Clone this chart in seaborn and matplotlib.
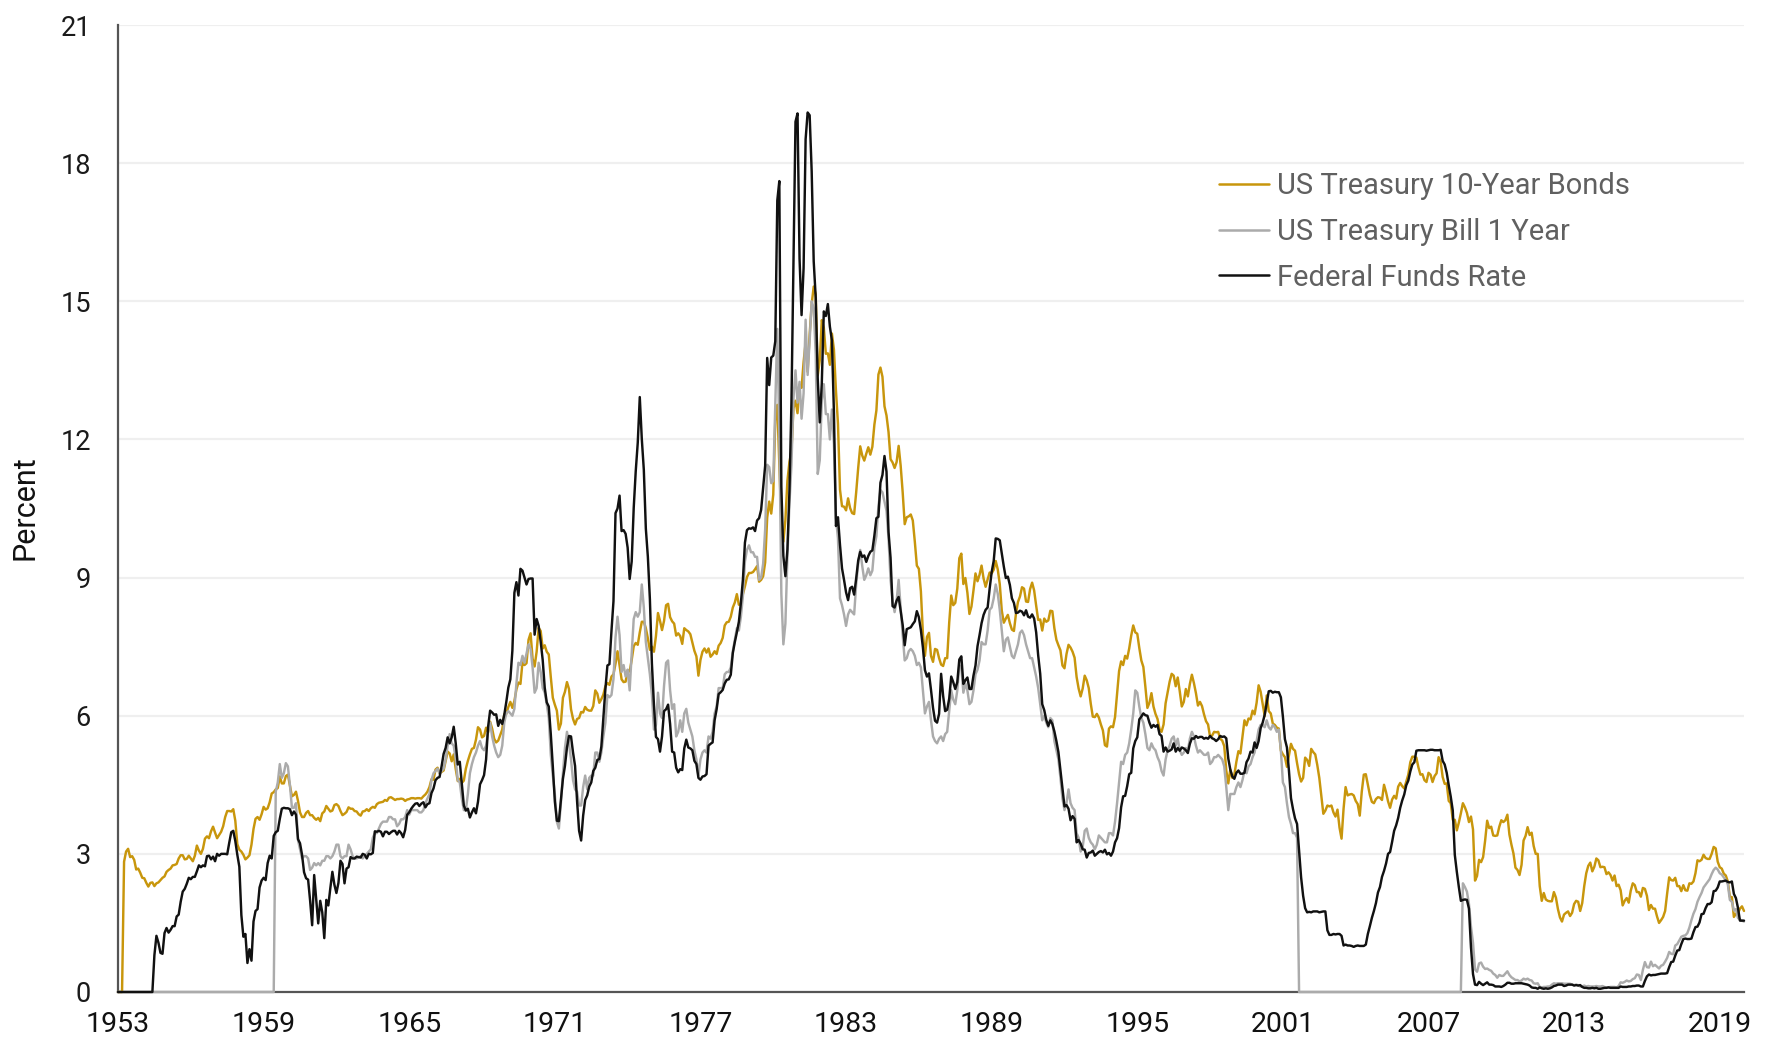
import numpy as np
import pandas as pd
import matplotlib
matplotlib.use("Agg")
import matplotlib.pyplot as plt
import seaborn as sns

# ---------------- data (monthly, Jan 1953 .. Jan 2020; 0 = no data) ----------------
start_year = 1953

treasury_10y = [
    0, 0, 0, 2.83, 3.05, 3.11, 2.93, 2.95, 2.87, 2.66, 2.68, 2.59,  # 1953
    2.48, 2.47, 2.37, 2.29, 2.37, 2.38, 2.30, 2.36, 2.38, 2.43, 2.48, 2.51,  # 1954
    2.61, 2.65, 2.68, 2.75, 2.76, 2.78, 2.90, 2.97, 2.97, 2.88, 2.89, 2.96,  # 1955
    2.90, 2.84, 2.96, 3.18, 3.07, 3.00, 3.11, 3.33, 3.38, 3.34, 3.49, 3.59,  # 1956
    3.46, 3.34, 3.41, 3.48, 3.60, 3.80, 3.93, 3.93, 3.92, 3.97, 3.72, 3.21,  # 1957
    3.09, 3.05, 2.98, 2.88, 2.92, 2.97, 3.20, 3.54, 3.76, 3.80, 3.74, 3.86,  # 1958
    4.02, 3.96, 3.99, 4.12, 4.31, 4.34, 4.40, 4.43, 4.68, 4.53, 4.53, 4.69,  # 1959
    4.72, 4.49, 4.25, 4.28, 4.35, 4.15, 3.90, 3.80, 3.80, 3.89, 3.93, 3.84,  # 1960
    3.84, 3.78, 3.74, 3.78, 3.71, 3.88, 3.92, 4.04, 3.98, 3.92, 3.94, 4.06,  # 1961
    4.08, 4.04, 3.93, 3.84, 3.87, 3.91, 4.01, 3.98, 3.98, 3.93, 3.92, 3.86,  # 1962
    3.83, 3.92, 3.93, 3.97, 3.93, 3.99, 4.02, 4.00, 4.08, 4.11, 4.12, 4.13,  # 1963
    4.17, 4.15, 4.22, 4.23, 4.20, 4.17, 4.19, 4.19, 4.20, 4.19, 4.15, 4.18,  # 1964
    4.19, 4.21, 4.21, 4.20, 4.21, 4.21, 4.20, 4.25, 4.29, 4.35, 4.45, 4.62,  # 1965
    4.61, 4.83, 4.87, 4.75, 4.78, 4.81, 5.02, 5.22, 5.18, 5.01, 5.16, 4.84,  # 1966
    4.58, 4.63, 4.54, 4.59, 4.85, 5.02, 5.16, 5.28, 5.30, 5.48, 5.75, 5.70,  # 1967
    5.53, 5.56, 5.74, 5.64, 5.87, 5.72, 5.50, 5.42, 5.46, 5.58, 5.70, 6.03,  # 1968
    6.04, 6.19, 6.30, 6.17, 6.32, 6.57, 6.72, 6.69, 7.16, 7.10, 7.14, 7.65,  # 1969
    7.79, 7.24, 7.07, 7.39, 7.91, 7.84, 7.46, 7.53, 7.39, 7.33, 6.84, 6.39,  # 1970
    6.24, 6.11, 5.70, 5.83, 6.39, 6.52, 6.73, 6.58, 6.14, 5.93, 5.81, 5.93,  # 1971
    5.95, 6.08, 6.07, 6.19, 6.13, 6.11, 6.11, 6.21, 6.55, 6.48, 6.28, 6.36,  # 1972
    6.46, 6.64, 6.71, 6.67, 6.85, 6.90, 7.13, 7.40, 7.09, 6.79, 6.73, 6.74,  # 1973
    6.99, 6.96, 7.21, 7.51, 7.58, 7.54, 7.81, 8.04, 8.04, 7.90, 7.68, 7.43,  # 1974
    7.50, 7.39, 7.73, 8.23, 8.06, 7.86, 8.06, 8.40, 8.43, 8.14, 8.05, 8.00,  # 1975
    7.74, 7.79, 7.73, 7.56, 7.90, 7.86, 7.83, 7.77, 7.59, 7.41, 7.29, 6.87,  # 1976
    7.21, 7.39, 7.46, 7.37, 7.46, 7.28, 7.33, 7.40, 7.34, 7.52, 7.58, 7.69,  # 1977
    7.96, 8.03, 8.04, 8.15, 8.35, 8.46, 8.64, 8.41, 8.42, 8.64, 8.81, 9.01,  # 1978
    9.10, 9.10, 9.12, 9.18, 9.25, 8.91, 8.95, 9.03, 9.33, 10.30, 10.65, 10.39,  # 1979
    10.80, 12.41, 12.75, 11.47, 10.18, 9.78, 10.25, 11.10, 11.51, 11.75, 12.68, 12.84,  # 1980
    12.57, 13.19, 13.12, 13.68, 14.10, 13.47, 14.28, 14.94, 15.32, 15.15, 13.39, 13.72,  # 1981
    14.59, 14.43, 13.86, 13.87, 13.62, 14.30, 13.95, 13.06, 12.34, 10.91, 10.55, 10.54,  # 1982
    10.46, 10.72, 10.51, 10.40, 10.38, 10.85, 11.38, 11.85, 11.65, 11.54, 11.69, 11.83,  # 1983
    11.67, 11.84, 12.32, 12.63, 13.41, 13.56, 13.36, 12.72, 12.52, 12.16, 11.57, 11.50,  # 1984
    11.38, 11.51, 11.86, 11.43, 10.85, 10.16, 10.31, 10.33, 10.37, 10.24, 9.78, 9.26,  # 1985
    9.19, 8.70, 7.78, 7.30, 7.71, 7.80, 7.30, 7.17, 7.45, 7.43, 7.25, 7.11,  # 1986
    7.08, 7.25, 7.25, 8.02, 8.61, 8.40, 8.45, 8.76, 9.42, 9.52, 8.86, 8.99,  # 1987
    8.67, 8.21, 8.37, 8.72, 9.09, 8.92, 9.06, 9.26, 8.98, 8.80, 8.96, 9.11,  # 1988
    9.09, 9.17, 9.36, 9.18, 8.86, 8.28, 8.02, 8.11, 8.19, 8.01, 7.87, 7.84,  # 1989
    8.21, 8.47, 8.59, 8.79, 8.76, 8.48, 8.47, 8.75, 8.89, 8.72, 8.39, 8.08,  # 1990
    8.09, 7.85, 8.11, 8.04, 8.07, 8.28, 8.27, 7.90, 7.65, 7.53, 7.42, 7.09,  # 1991
    7.03, 7.34, 7.54, 7.48, 7.39, 7.26, 6.84, 6.59, 6.42, 6.59, 6.87, 6.77,  # 1992
    6.60, 6.26, 5.98, 5.97, 6.04, 5.96, 5.81, 5.68, 5.36, 5.33, 5.72, 5.77,  # 1993
    5.75, 5.97, 6.48, 6.97, 7.18, 7.10, 7.30, 7.24, 7.46, 7.74, 7.96, 7.81,  # 1994
    7.78, 7.47, 7.20, 7.06, 6.63, 6.17, 6.28, 6.49, 6.20, 6.04, 5.93, 5.71,  # 1995
    5.65, 5.81, 6.27, 6.51, 6.74, 6.91, 6.87, 6.64, 6.83, 6.53, 6.20, 6.30,  # 1996
    6.58, 6.42, 6.69, 6.89, 6.71, 6.49, 6.22, 6.30, 6.21, 6.03, 5.88, 5.81,  # 1997
    5.54, 5.57, 5.65, 5.64, 5.65, 5.50, 5.46, 5.34, 4.81, 4.53, 4.83, 4.65,  # 1998
    4.72, 5.00, 5.23, 5.18, 5.54, 5.90, 5.79, 5.94, 5.92, 6.11, 6.03, 6.28,  # 1999
    6.66, 6.52, 6.26, 5.99, 6.44, 6.10, 6.05, 5.83, 5.80, 5.74, 5.72, 5.24,  # 2000
    5.16, 5.10, 4.89, 5.14, 5.39, 5.28, 5.24, 4.97, 4.73, 4.57, 4.65, 5.09,  # 2001
    5.04, 4.91, 5.28, 5.21, 5.16, 4.93, 4.65, 4.26, 3.87, 3.94, 4.05, 4.03,  # 2002
    4.05, 3.90, 3.81, 3.96, 3.57, 3.33, 3.98, 4.45, 4.27, 4.29, 4.30, 4.27,  # 2003
    4.15, 4.08, 3.83, 4.35, 4.72, 4.73, 4.50, 4.28, 4.13, 4.10, 4.19, 4.23,  # 2004
    4.22, 4.17, 4.50, 4.34, 4.14, 4.00, 4.18, 4.26, 4.20, 4.46, 4.54, 4.47,  # 2005
    4.42, 4.57, 4.72, 4.99, 5.11, 5.11, 5.09, 4.88, 4.72, 4.73, 4.60, 4.56,  # 2006
    4.76, 4.72, 4.56, 4.69, 4.75, 5.10, 5.00, 4.67, 4.52, 4.53, 4.15, 4.10,  # 2007
    3.74, 3.74, 3.51, 3.68, 3.88, 4.10, 4.01, 3.89, 3.69, 3.81, 3.53, 2.42,  # 2008
    2.52, 2.87, 2.82, 2.93, 3.29, 3.72, 3.56, 3.59, 3.40, 3.39, 3.40, 3.59,  # 2009
    3.73, 3.69, 3.73, 3.85, 3.42, 3.20, 3.01, 2.70, 2.65, 2.54, 2.76, 3.29,  # 2010
    3.39, 3.58, 3.41, 3.46, 3.17, 3.00, 3.00, 2.30, 1.98, 2.15, 2.01, 1.98,  # 2011
    1.97, 1.97, 2.17, 2.05, 1.80, 1.62, 1.53, 1.68, 1.72, 1.75, 1.65, 1.72,  # 2012
    1.91, 1.98, 1.96, 1.76, 1.93, 2.30, 2.58, 2.74, 2.81, 2.62, 2.72, 2.90,  # 2013
    2.86, 2.71, 2.72, 2.71, 2.56, 2.60, 2.54, 2.42, 2.53, 2.30, 2.33, 2.21,  # 2014
    1.88, 1.98, 2.04, 1.94, 2.20, 2.36, 2.32, 2.17, 2.17, 2.07, 2.26, 2.24,  # 2015
    2.09, 1.78, 1.89, 1.81, 1.81, 1.64, 1.50, 1.56, 1.63, 1.76, 2.14, 2.49,  # 2016
    2.43, 2.42, 2.48, 2.30, 2.30, 2.19, 2.32, 2.21, 2.20, 2.36, 2.35, 2.40,  # 2017
    2.58, 2.86, 2.84, 2.87, 2.98, 2.91, 2.89, 2.89, 3.00, 3.15, 3.12, 2.83,  # 2018
    2.71, 2.68, 2.57, 2.53, 2.40, 2.07, 2.06, 1.63, 1.70, 1.71, 1.81, 1.86,  # 2019
    1.76,  # 2020
]

tbill_1y = [
    0, 0, 0, 0, 0, 0, 0, 0, 0, 0, 0, 0,  # 1953
    0, 0, 0, 0, 0, 0, 0, 0, 0, 0, 0, 0,  # 1954
    0, 0, 0, 0, 0, 0, 0, 0, 0, 0, 0, 0,  # 1955
    0, 0, 0, 0, 0, 0, 0, 0, 0, 0, 0, 0,  # 1956
    0, 0, 0, 0, 0, 0, 0, 0, 0, 0, 0, 0,  # 1957
    0, 0, 0, 0, 0, 0, 0, 0, 0, 0, 0, 0,  # 1958
    0, 0, 0, 0, 0, 0, 4.35, 4.55, 4.95, 4.65, 4.75, 4.97,  # 1959
    4.90, 4.50, 4.00, 4.00, 4.10, 3.30, 3.10, 2.90, 2.95, 2.95, 2.90, 2.65,  # 1960
    2.70, 2.80, 2.75, 2.80, 2.75, 2.85, 2.85, 2.95, 2.95, 2.90, 2.95, 3.05,  # 1961
    3.20, 3.20, 2.95, 2.90, 2.95, 2.95, 3.20, 3.10, 2.95, 2.90, 2.90, 2.92,  # 1962
    2.95, 2.90, 2.95, 3.00, 3.05, 3.10, 3.35, 3.45, 3.45, 3.55, 3.65, 3.70,  # 1963
    3.70, 3.70, 3.80, 3.80, 3.75, 3.75, 3.60, 3.65, 3.75, 3.75, 3.80, 3.95,  # 1964
    3.85, 3.95, 3.95, 3.95, 3.95, 3.90, 3.90, 3.95, 4.10, 4.20, 4.30, 4.60,  # 1965
    4.75, 4.80, 4.85, 4.75, 4.80, 4.85, 5.05, 5.35, 5.60, 5.40, 5.35, 5.05,  # 1966
    4.60, 4.55, 4.20, 3.95, 3.95, 4.30, 4.75, 4.95, 5.10, 5.20, 5.35, 5.45,  # 1967
    5.30, 5.25, 5.35, 5.65, 5.85, 5.55, 5.35, 5.20, 5.10, 5.15, 5.35, 5.85,  # 1968
    6.05, 6.10, 6.05, 6.00, 6.15, 6.70, 7.15, 7.10, 7.30, 7.15, 7.35, 7.55,  # 1969
    7.45, 7.05, 6.50, 6.60, 7.15, 6.95, 6.60, 6.50, 6.25, 5.95, 5.15, 4.70,  # 1970
    4.30, 3.70, 3.55, 4.10, 4.75, 5.30, 5.65, 5.40, 5.05, 4.60, 4.40, 4.35,  # 1971
    4.05, 4.05, 4.45, 4.70, 4.40, 4.65, 4.70, 4.70, 5.20, 5.20, 5.00, 5.20,  # 1972
    5.55, 5.85, 6.45, 6.40, 6.45, 6.80, 7.70, 8.15, 7.75, 6.95, 7.10, 6.85,  # 1973
    7.00, 6.55, 7.35, 8.10, 8.25, 8.15, 8.25, 8.85, 8.35, 7.60, 7.25, 6.90,  # 1974
    6.45, 5.70, 5.80, 6.50, 6.05, 5.95, 6.65, 7.15, 7.20, 6.55, 6.15, 6.25,  # 1975
    5.55, 5.65, 5.90, 5.65, 6.05, 6.15, 5.85, 5.70, 5.55, 5.25, 5.05, 4.70,  # 1976
    5.05, 5.20, 5.25, 5.20, 5.55, 5.50, 5.65, 6.05, 6.20, 6.60, 6.60, 6.60,  # 1977
    6.90, 6.95, 6.95, 7.05, 7.40, 7.65, 7.90, 7.85, 8.15, 8.60, 9.35, 9.60,  # 1978
    9.70, 9.55, 9.55, 9.45, 9.45, 8.95, 9.00, 9.30, 10.05, 11.45, 11.40, 11.05,  # 1979
    11.10, 12.75, 14.40, 12.15, 8.65, 7.55, 8.00, 9.45, 10.60, 11.45, 12.90, 13.50,  # 1980
    12.80, 13.25, 12.45, 13.00, 14.60, 13.40, 14.15, 15.00, 14.85, 13.85, 11.25, 11.55,  # 1981
    12.85, 13.20, 12.55, 12.55, 12.00, 12.65, 11.90, 10.30, 9.85, 8.55, 8.40, 8.20,  # 1982
    7.95, 8.20, 8.30, 8.25, 8.20, 8.85, 9.30, 9.60, 9.25, 8.95, 9.05, 9.20,  # 1983
    9.05, 9.15, 9.65, 9.90, 10.55, 10.90, 10.85, 10.65, 10.45, 9.85, 8.95, 8.50,  # 1984
    8.25, 8.50, 8.95, 8.35, 7.75, 7.20, 7.25, 7.40, 7.45, 7.40, 7.30, 7.10,  # 1985
    7.15, 7.05, 6.55, 6.05, 6.20, 6.30, 5.90, 5.55, 5.45, 5.40, 5.50, 5.55,  # 1986
    5.45, 5.60, 5.65, 6.10, 6.55, 6.35, 6.25, 6.55, 7.10, 7.05, 6.50, 6.70,  # 1987
    6.55, 6.25, 6.30, 6.55, 6.90, 7.00, 7.20, 7.60, 7.55, 7.55, 7.85, 8.30,  # 1988
    8.35, 8.55, 8.85, 8.65, 8.30, 7.85, 7.40, 7.65, 7.70, 7.50, 7.30, 7.25,  # 1989
    7.40, 7.55, 7.80, 7.85, 7.75, 7.55, 7.40, 7.25, 7.25, 7.05, 6.85, 6.60,  # 1990
    6.25, 5.90, 6.00, 5.85, 5.75, 5.95, 5.90, 5.45, 5.25, 5.05, 4.65, 4.20,  # 1991
    3.95, 4.10, 4.40, 4.10, 4.00, 3.95, 3.45, 3.35, 3.05, 3.15, 3.50, 3.55,  # 1992
    3.35, 3.25, 3.20, 3.10, 3.20, 3.40, 3.35, 3.30, 3.25, 3.25, 3.45, 3.45,  # 1993
    3.40, 3.70, 4.10, 4.55, 5.00, 4.95, 5.15, 5.20, 5.40, 5.70, 6.05, 6.55,  # 1994
    6.50, 6.20, 5.95, 5.85, 5.60, 5.30, 5.25, 5.40, 5.30, 5.25, 5.10, 5.00,  # 1995
    4.80, 4.70, 5.05, 5.25, 5.35, 5.50, 5.55, 5.35, 5.50, 5.25, 5.15, 5.20,  # 1996
    5.30, 5.25, 5.50, 5.65, 5.55, 5.35, 5.20, 5.25, 5.20, 5.15, 5.15, 5.20,  # 1997
    4.95, 5.00, 5.10, 5.10, 5.15, 5.10, 5.05, 4.90, 4.45, 3.95, 4.30, 4.30,  # 1998
    4.30, 4.45, 4.55, 4.45, 4.60, 4.80, 4.75, 4.90, 4.95, 5.10, 5.20, 5.45,  # 1999
    5.70, 5.80, 5.80, 5.75, 5.90, 5.75, 5.70, 5.80, 5.75, 5.65, 5.70, 5.25,  # 2000
    4.55, 4.45, 4.10, 3.80, 3.65, 3.45, 3.45, 3.35, 0, 0, 0, 0,  # 2001
    0, 0, 0, 0, 0, 0, 0, 0, 0, 0, 0, 0,  # 2002
    0, 0, 0, 0, 0, 0, 0, 0, 0, 0, 0, 0,  # 2003
    0, 0, 0, 0, 0, 0, 0, 0, 0, 0, 0, 0,  # 2004
    0, 0, 0, 0, 0, 0, 0, 0, 0, 0, 0, 0,  # 2005
    0, 0, 0, 0, 0, 0, 0, 0, 0, 0, 0, 0,  # 2006
    0, 0, 0, 0, 0, 0, 0, 0, 0, 0, 0, 0,  # 2007
    0, 0, 0, 0, 0, 2.36, 2.28, 2.18, 1.91, 1.42, 1.07, 0.49,  # 2008
    0.44, 0.62, 0.64, 0.55, 0.50, 0.51, 0.48, 0.46, 0.40, 0.37, 0.31, 0.37,  # 2009
    0.35, 0.35, 0.40, 0.45, 0.37, 0.32, 0.29, 0.26, 0.26, 0.23, 0.25, 0.29,  # 2010
    0.27, 0.29, 0.26, 0.25, 0.19, 0.18, 0.19, 0.11, 0.10, 0.11, 0.11, 0.12,  # 2011
    0.12, 0.16, 0.19, 0.18, 0.19, 0.19, 0.19, 0.18, 0.18, 0.18, 0.18, 0.16,  # 2012
    0.15, 0.16, 0.15, 0.12, 0.12, 0.14, 0.12, 0.13, 0.12, 0.12, 0.12, 0.13,  # 2013
    0.12, 0.12, 0.13, 0.11, 0.10, 0.10, 0.11, 0.11, 0.11, 0.10, 0.13, 0.21,  # 2014
    0.20, 0.22, 0.25, 0.23, 0.24, 0.28, 0.30, 0.38, 0.37, 0.26, 0.48, 0.65,  # 2015
    0.54, 0.53, 0.66, 0.56, 0.59, 0.55, 0.51, 0.57, 0.59, 0.66, 0.74, 0.87,  # 2016
    0.83, 0.82, 1.01, 1.04, 1.12, 1.20, 1.22, 1.23, 1.28, 1.40, 1.56, 1.70,  # 2017
    1.80, 1.96, 2.06, 2.15, 2.27, 2.33, 2.39, 2.45, 2.56, 2.65, 2.70, 2.66,  # 2018
    2.58, 2.55, 2.49, 2.43, 2.34, 2.00, 1.96, 1.77, 1.80, 1.61, 1.57, 1.55,  # 2019
    1.53,  # 2020
]

fed_funds = [
    0, 0, 0, 0, 0, 0, 0, 0, 0, 0, 0, 0,  # 1953
    0, 0, 0, 0, 0, 0, 0.80, 1.22, 1.07, 0.85, 0.83, 1.28,  # 1954
    1.39, 1.29, 1.35, 1.43, 1.43, 1.64, 1.68, 1.96, 2.18, 2.24, 2.35, 2.48,  # 1955
    2.45, 2.50, 2.50, 2.62, 2.75, 2.71, 2.75, 2.73, 2.95, 2.96, 2.88, 2.94,  # 1956
    2.84, 3.00, 2.96, 3.00, 3.00, 3.00, 2.99, 3.24, 3.47, 3.50, 3.28, 2.98,  # 1957
    2.72, 1.67, 1.20, 1.26, 0.63, 0.93, 0.68, 1.53, 1.76, 1.80, 2.27, 2.42,  # 1958
    2.48, 2.43, 2.80, 2.96, 2.90, 3.39, 3.47, 3.50, 3.76, 3.98, 4.00, 3.99,  # 1959
    3.99, 3.97, 3.84, 3.92, 3.85, 3.32, 3.23, 2.98, 2.60, 2.47, 2.44, 1.98,  # 1960
    1.45, 2.54, 2.02, 1.49, 1.98, 1.73, 1.17, 2.00, 1.88, 2.26, 2.61, 2.33,  # 1961
    2.15, 2.37, 2.85, 2.78, 2.36, 2.68, 2.71, 2.93, 2.90, 2.90, 2.94, 2.93,  # 1962
    2.92, 3.00, 2.98, 2.90, 3.00, 2.99, 3.02, 3.49, 3.48, 3.50, 3.48, 3.38,  # 1963
    3.48, 3.48, 3.43, 3.47, 3.50, 3.50, 3.42, 3.50, 3.45, 3.36, 3.52, 3.85,  # 1964
    3.90, 3.98, 4.04, 4.09, 4.10, 4.04, 4.09, 4.12, 4.01, 4.08, 4.10, 4.32,  # 1965
    4.42, 4.60, 4.65, 4.67, 4.90, 5.17, 5.30, 5.53, 5.40, 5.53, 5.76, 5.40,  # 1966
    4.94, 5.00, 4.53, 4.05, 3.94, 3.98, 3.79, 3.90, 3.99, 3.88, 4.13, 4.51,  # 1967
    4.60, 4.71, 5.05, 5.76, 6.11, 6.07, 6.02, 6.03, 5.78, 5.91, 5.82, 6.02,  # 1968
    6.30, 6.61, 6.79, 7.41, 8.67, 8.90, 8.61, 9.19, 9.15, 9.00, 8.85, 8.97,  # 1969
    8.98, 8.98, 7.76, 8.10, 7.95, 7.61, 7.21, 6.61, 6.29, 6.20, 5.60, 4.90,  # 1970
    4.14, 3.72, 3.71, 4.16, 4.63, 4.91, 5.31, 5.56, 5.55, 5.20, 4.91, 4.14,  # 1971
    3.50, 3.29, 3.83, 4.17, 4.27, 4.46, 4.55, 4.80, 4.87, 5.04, 5.06, 5.33,  # 1972
    5.94, 6.58, 7.09, 7.12, 7.84, 8.49, 10.40, 10.50, 10.78, 10.01, 10.03, 9.95,  # 1973
    9.65, 8.97, 9.35, 10.51, 11.31, 11.93, 12.92, 12.01, 11.34, 10.06, 9.45, 8.53,  # 1974
    7.13, 6.24, 5.54, 5.49, 5.22, 5.55, 6.10, 6.14, 6.24, 5.82, 5.22, 5.20,  # 1975
    4.87, 4.77, 4.84, 4.82, 5.29, 5.48, 5.31, 5.29, 5.25, 5.02, 4.95, 4.65,  # 1976
    4.61, 4.68, 4.69, 4.73, 5.35, 5.39, 5.42, 5.90, 6.14, 6.47, 6.51, 6.56,  # 1977
    6.70, 6.78, 6.79, 6.89, 7.36, 7.60, 7.81, 8.04, 8.45, 8.96, 9.76, 10.03,  # 1978
    10.07, 10.06, 10.09, 10.01, 10.24, 10.29, 10.47, 10.94, 11.43, 13.77, 13.18, 13.78,  # 1979
    13.82, 14.13, 17.19, 17.61, 10.98, 9.47, 9.03, 9.61, 10.87, 12.81, 15.85, 18.90,  # 1980
    19.08, 15.93, 14.70, 15.72, 18.52, 19.10, 19.04, 17.82, 15.87, 15.08, 13.31, 12.37,  # 1981
    13.22, 14.78, 14.68, 14.94, 14.45, 14.15, 12.59, 10.12, 10.31, 9.71, 9.20, 8.95,  # 1982
    8.68, 8.51, 8.77, 8.80, 8.63, 8.98, 9.37, 9.56, 9.45, 9.48, 9.34, 9.47,  # 1983
    9.56, 9.59, 9.91, 10.29, 10.32, 11.06, 11.23, 11.64, 11.30, 9.99, 9.43, 8.38,  # 1984
    8.35, 8.50, 8.58, 8.27, 7.97, 7.53, 7.88, 7.90, 7.92, 7.99, 8.05, 8.27,  # 1985
    8.14, 7.86, 7.48, 6.99, 6.85, 6.92, 6.56, 6.17, 5.89, 5.85, 6.04, 6.91,  # 1986
    6.43, 6.10, 6.13, 6.37, 6.85, 6.73, 6.58, 6.73, 7.22, 7.29, 6.69, 6.77,  # 1987
    6.83, 6.58, 6.58, 6.87, 7.09, 7.51, 7.75, 8.01, 8.19, 8.30, 8.35, 8.76,  # 1988
    9.12, 9.36, 9.85, 9.84, 9.81, 9.53, 9.24, 8.99, 9.02, 8.84, 8.55, 8.45,  # 1989
    8.23, 8.24, 8.28, 8.26, 8.18, 8.29, 8.15, 8.13, 8.20, 8.11, 7.81, 7.31,  # 1990
    6.91, 6.25, 6.12, 5.91, 5.78, 5.90, 5.82, 5.66, 5.45, 5.21, 4.81, 4.43,  # 1991
    4.03, 4.06, 3.98, 3.73, 3.82, 3.76, 3.25, 3.30, 3.22, 3.10, 3.09, 2.92,  # 1992
    3.02, 3.03, 3.07, 2.96, 3.00, 3.04, 3.06, 3.03, 3.09, 2.99, 3.02, 2.96,  # 1993
    3.05, 3.25, 3.34, 3.56, 4.01, 4.25, 4.26, 4.47, 4.73, 4.76, 5.29, 5.45,  # 1994
    5.53, 5.92, 5.98, 6.05, 6.01, 6.00, 5.85, 5.74, 5.80, 5.76, 5.80, 5.60,  # 1995
    5.56, 5.22, 5.31, 5.22, 5.24, 5.27, 5.40, 5.22, 5.30, 5.24, 5.31, 5.29,  # 1996
    5.25, 5.19, 5.39, 5.51, 5.50, 5.56, 5.52, 5.54, 5.54, 5.50, 5.52, 5.50,  # 1997
    5.56, 5.51, 5.49, 5.45, 5.49, 5.56, 5.54, 5.55, 5.51, 5.07, 4.83, 4.68,  # 1998
    4.63, 4.76, 4.81, 4.74, 4.74, 4.76, 4.99, 5.07, 5.22, 5.20, 5.42, 5.30,  # 1999
    5.45, 5.73, 5.85, 6.02, 6.27, 6.53, 6.54, 6.50, 6.52, 6.51, 6.51, 6.40,  # 2000
    5.98, 5.49, 5.31, 4.80, 4.21, 3.97, 3.77, 3.65, 3.07, 2.49, 2.09, 1.82,  # 2001
    1.73, 1.74, 1.73, 1.75, 1.75, 1.75, 1.73, 1.74, 1.75, 1.75, 1.34, 1.24,  # 2002
    1.24, 1.26, 1.25, 1.26, 1.26, 1.22, 1.01, 1.03, 1.01, 1.01, 1.00, 0.98,  # 2003
    1.00, 1.01, 1.00, 1.00, 1.00, 1.03, 1.26, 1.43, 1.61, 1.76, 1.93, 2.16,  # 2004
    2.28, 2.50, 2.63, 2.79, 3.00, 3.04, 3.26, 3.50, 3.62, 3.78, 4.00, 4.16,  # 2005
    4.29, 4.49, 4.59, 4.79, 4.94, 4.99, 5.24, 5.25, 5.25, 5.25, 5.25, 5.24,  # 2006
    5.25, 5.26, 5.26, 5.25, 5.25, 5.25, 5.26, 5.02, 4.94, 4.76, 4.49, 4.24,  # 2007
    3.94, 2.98, 2.61, 2.28, 1.98, 2.00, 2.01, 2.00, 1.81, 0.97, 0.39, 0.16,  # 2008
    0.15, 0.22, 0.18, 0.15, 0.18, 0.21, 0.16, 0.16, 0.15, 0.12, 0.12, 0.12,  # 2009
    0.11, 0.13, 0.16, 0.20, 0.20, 0.18, 0.18, 0.19, 0.19, 0.19, 0.19, 0.18,  # 2010
    0.17, 0.16, 0.14, 0.10, 0.09, 0.09, 0.07, 0.10, 0.08, 0.07, 0.08, 0.07,  # 2011
    0.08, 0.10, 0.13, 0.14, 0.16, 0.16, 0.16, 0.13, 0.14, 0.16, 0.16, 0.16,  # 2012
    0.14, 0.15, 0.14, 0.15, 0.11, 0.09, 0.09, 0.08, 0.08, 0.09, 0.08, 0.09,  # 2013
    0.07, 0.07, 0.08, 0.09, 0.09, 0.10, 0.09, 0.09, 0.09, 0.09, 0.09, 0.12,  # 2014
    0.11, 0.11, 0.11, 0.12, 0.12, 0.13, 0.13, 0.14, 0.14, 0.12, 0.12, 0.24,  # 2015
    0.34, 0.38, 0.36, 0.37, 0.37, 0.38, 0.39, 0.40, 0.40, 0.40, 0.41, 0.54,  # 2016
    0.65, 0.66, 0.79, 0.90, 0.91, 1.04, 1.15, 1.16, 1.15, 1.15, 1.16, 1.30,  # 2017
    1.41, 1.42, 1.51, 1.69, 1.70, 1.82, 1.91, 1.91, 1.95, 2.19, 2.20, 2.27,  # 2018
    2.40, 2.40, 2.41, 2.42, 2.39, 2.38, 2.40, 2.13, 2.04, 1.83, 1.55, 1.55,  # 2019
    1.55,  # 2020
]

series_names = ["US Treasury 10-Year Bonds", "US Treasury Bill 1 Year", "Federal Funds Rate"]
series_values = [treasury_10y, tbill_1y, fed_funds]
series_colors = ["#C8960C", "#ABABAB", "#111111"]
x_ticks = list(range(1953, 2020, 6))
y_ticks = list(range(0, 22, 3))
y_label = "Percent"

# ---------------- build table ----------------
n = len(fed_funds)
months = pd.date_range(f"{start_year}-01-01", periods=n, freq="MS")
dec_year = np.asarray(months.year + (months.month - 1) / 12.0, dtype=float)

frames = []
for name, vals in zip(series_names, series_values):
    frames.append(pd.DataFrame({"year": dec_year, "rate": np.asarray(vals, float), "series": name}))
df = pd.concat(frames, ignore_index=True)

# ---------------- style ----------------
sns.set_style("white")
plt.rcParams["font.family"] = ["Roboto", "DejaVu Sans"]

fig = plt.figure(figsize=(17.78, 10.40), dpi=100)
ax = fig.add_axes([118 / 1778, 1 - 992 / 1040, (1744 - 118) / 1778, (992 - 25) / 1040])

sns.lineplot(data=df, x="year", y="rate", hue="series", hue_order=series_names,
             palette=series_colors, linewidth=1.75, ax=ax, sort=False,
             estimator=None, legend=True)
for ln in ax.get_lines():
    ln.set_clip_on(False)
    ln.set_zorder(3)

ax.set_xlim(start_year, dec_year[-1])
ax.set_ylim(0, 21)
ax.set_xticks(x_ticks)
ax.set_yticks(y_ticks)
ax.set_xlabel("")
ax.set_ylabel("")

ax.yaxis.grid(True, color="#EFEFEF", linewidth=1.6, zorder=0)
ax.xaxis.grid(False)
ax.set_axisbelow(True)

for side in ["top", "right"]:
    ax.spines[side].set_visible(False)
for side in ["left", "bottom"]:
    ax.spines[side].set_color("#555555")
    ax.spines[side].set_linewidth(1.6)
    ax.spines[side].set_zorder(2.5)

ax.tick_params(axis="both", direction="inout", length=11, width=1.5, color="#555555",
               labelcolor="#111111")
ax.tick_params(axis="y", pad=14, labelsize=19.5)
ax.tick_params(axis="x", pad=8, labelsize=20)
for lab in ax.get_xticklabels():
    lab.set_family(["Liberation Sans Narrow", "Roboto", "DejaVu Sans"])
    lab.set_fontsize(20.5)
for lab in ax.get_yticklabels():
    lab.set_family(["Roboto", "DejaVu Sans"])
    lab.set_color("#1A1A1A")

fig.text(25 / 1778, 1 - 508 / 1040, y_label, rotation=90, ha="center", va="center",
         fontsize=22, color="#111111", family=["Liberation Sans Narrow", "Roboto", "DejaVu Sans"])

handles, labels = ax.get_legend_handles_labels()
leg = ax.legend(handles, labels, loc="upper left", bbox_to_anchor=(1219 / 1778, 1 - 172.5 / 1040),
                bbox_transform=fig.transFigure, frameon=False, fontsize=21,
                handlelength=1.7, handletextpad=0.3, labelspacing=0.60,
                borderpad=0, borderaxespad=0)
for t in leg.get_texts():
    t.set_color("#606060")
for h in leg.get_lines():
    h.set_linewidth(1.8)

fig.savefig("out.png", dpi=100)
